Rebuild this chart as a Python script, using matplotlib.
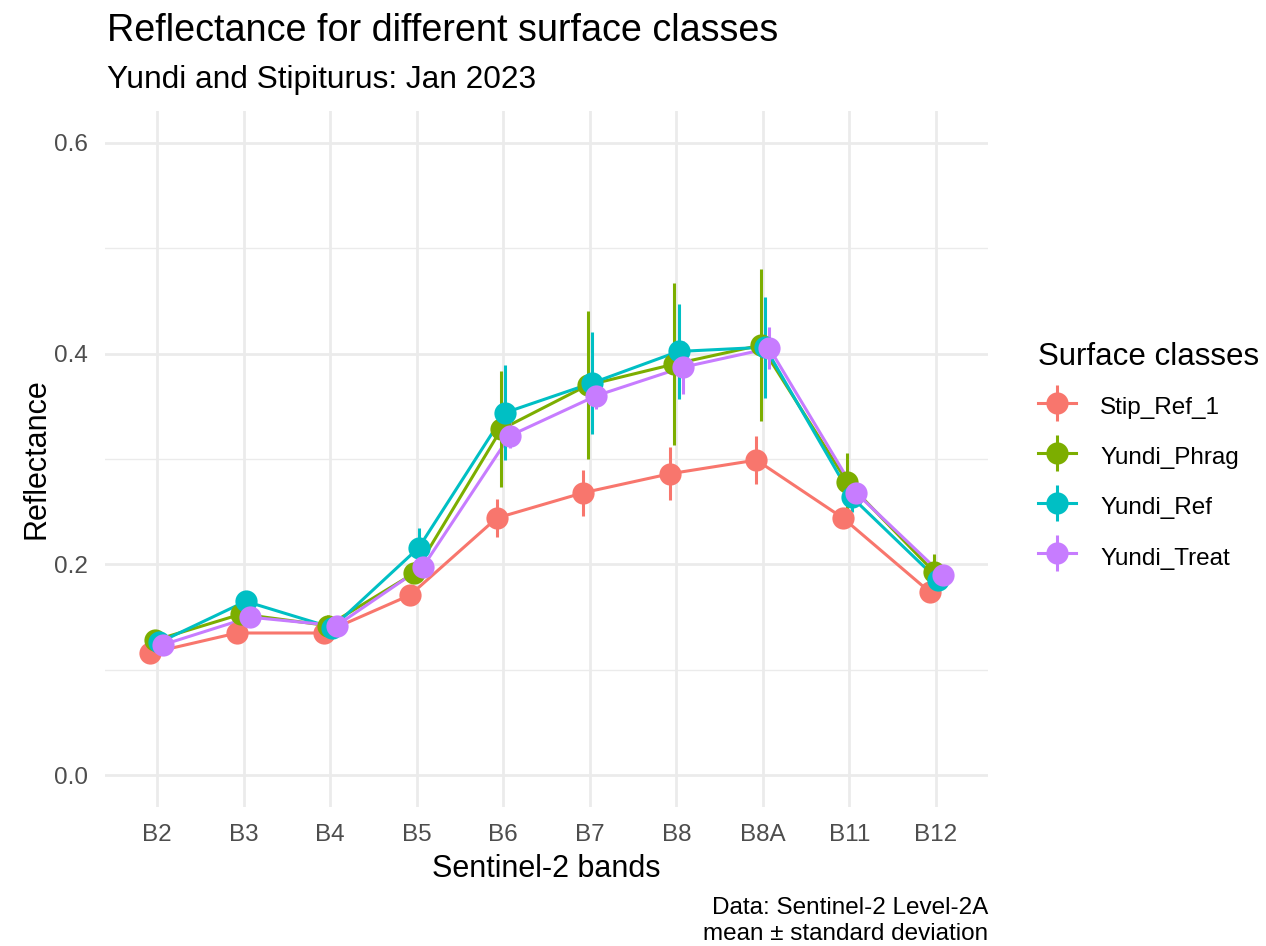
import matplotlib
matplotlib.use('Agg')
import matplotlib.pyplot as plt
import numpy as np
from matplotlib.lines import Line2D
from matplotlib.legend_handler import HandlerTuple

plt.rcParams['font.family'] = ['Liberation Sans', 'DejaVu Sans']

bands = ['B2', 'B3', 'B4', 'B5', 'B6', 'B7', 'B8', 'B8A', 'B11', 'B12']
classes = ['Stip_Ref_1', 'Yundi_Phrag', 'Yundi_Ref', 'Yundi_Treat']
colors = ['#F8766D', '#7CAE00', '#00BFC4', '#C77CFF']

stip_mean = [0.116, 0.135, 0.135, 0.171, 0.244, 0.268, 0.286, 0.299, 0.244, 0.174]
phrag_mean = [0.128, 0.153, 0.142, 0.192, 0.328, 0.370, 0.390, 0.408, 0.278, 0.193]
ref_mean = [0.126, 0.165, 0.140, 0.216, 0.344, 0.372, 0.402, 0.406, 0.264, 0.185]
treat_mean = [0.124, 0.150, 0.142, 0.198, 0.322, 0.360, 0.387, 0.405, 0.268, 0.190]

stip_sd = [0.005, 0.006, 0.006, 0.008, 0.018, 0.022, 0.025, 0.023, 0.008, 0.006]
phrag_sd = [0.006, 0.008, 0.010, 0.010, 0.055, 0.070, 0.077, 0.072, 0.028, 0.017]
ref_sd = [0.006, 0.008, 0.006, 0.019, 0.045, 0.048, 0.045, 0.048, 0.014, 0.008]
treat_sd = [0.005, 0.007, 0.006, 0.008, 0.012, 0.013, 0.025, 0.020, 0.010, 0.008]

means = [stip_mean, phrag_mean, ref_mean, treat_mean]
sds = [stip_sd, phrag_sd, ref_sd, treat_sd]

W, H = 1266, 946
fig = plt.figure(figsize=(W / 100, H / 100), dpi=100)
L, R, T, B = 105, 988, 111, 807
ax = fig.add_axes([L / W, 1 - B / H, (R - L) / W, (B - T) / H])

x = np.arange(len(bands))
dodge = 0.2
n = len(classes)
offsets = [(i - (n - 1) / 2) * dodge / n for i in range(n)]

LW = 2.2
MS = 16
for m, c, off in zip(means, colors, offsets):
    ax.plot(x + off, m, color=c, lw=LW, zorder=3, solid_capstyle='butt')
for m, s, c, off in zip(means, sds, colors, offsets):
    m = np.array(m); s = np.array(s)
    ax.vlines(x + off, m - s, m + s, color=c, lw=LW, zorder=4)
for m, c, off in zip(means, colors, offsets):
    ax.plot(x + off, m, linestyle='none', marker='o', ms=MS, color=c,
            markeredgewidth=0, zorder=5)

ax.set_xlim(-0.6, len(bands) - 0.4)
ax.set_ylim(-0.03, 0.63)
ax.set_xticks(x)
ax.set_xticklabels(bands)
ax.set_yticks([0.0, 0.2, 0.4, 0.6])
ax.set_yticklabels(['0.0', '0.2', '0.4', '0.6'])
ax.set_yticks([0.1, 0.3, 0.5], minor=True)
ax.grid(True, which='major', color='#EBEBEB', lw=2.0, zorder=0)
ax.grid(True, which='minor', axis='y', color='#EBEBEB', lw=1.0, zorder=0)
ax.set_axisbelow(True)
for sp in ax.spines.values():
    sp.set_visible(False)
ax.tick_params(which='both', length=0, labelsize=17.5, labelcolor='#4D4D4D', pad=12)

ax.set_xlabel('Sentinel-2 bands', fontsize=22, color='black', labelpad=6)
ax.set_ylabel('Reflectance', fontsize=22, color='black', labelpad=2)

fig.text(107 / W, 1 - 31 / H, 'Reflectance for different surface classes',
         fontsize=27.2, va='center', ha='left')
fig.text(107 / W, 1 - 80 / H, 'Yundi and Stipiturus: Jan 2023',
         fontsize=22.8, va='center', ha='left')
fig.text(R / W, 1 - 921 / H, 'Data: Sentinel-2 Level-2A\nmean \u00b1 standard deviation',
         fontsize=17.5, va='center', ha='right', linespacing=1.2)

handles = []
for c in colors:
    h1 = Line2D([], [], color=c, lw=LW, marker='o', ms=MS, markeredgewidth=0)
    h2 = Line2D([], [], color=c, linestyle='none', marker='|', ms=26.5, markeredgewidth=LW)
    handles.append((h2, h1))
leg = fig.legend(handles, classes, handler_map={tuple: HandlerTuple(ndivide=1, pad=0)},
                 loc='upper left', bbox_to_anchor=(1038 / W, 1 - 342 / H),
                 frameon=False, fontsize=17.5, title='Surface classes',
                 title_fontsize=22.5, alignment='left', handlelength=1.56,
                 handleheight=1.5, labelspacing=0.84, handletextpad=1.0,
                 borderpad=0, borderaxespad=0)
leg._legend_box.sep = 14

fig.savefig('out.png', dpi=100, facecolor='white')
